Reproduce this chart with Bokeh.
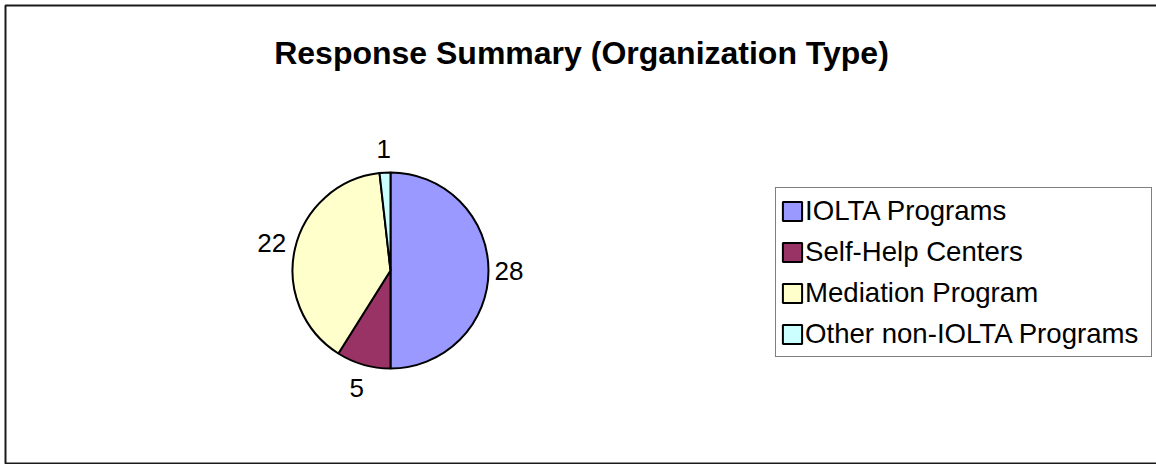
import numpy as np
from bokeh.plotting import figure
from bokeh.models import ColumnDataSource, Range1d, Label, Legend, LegendItem
from bokeh.embed import file_html
from bokeh.resources import INLINE
from bokeh.core.properties import value

# ---- data ----
categories = ["IOLTA Programs", "Self-Help Centers", "Mediation Program", "Other non-IOLTA Programs"]
counts = [28, 5, 22, 1]
colors = ["#9999FF", "#993366", "#FFFFCC", "#CCFFFF"]
title_text = "Response Summary (Organization Type)"

# ---- layout (1 data unit = 1 px, y measured from the top via H - y) ----
W, H = 1156, 464
CX, CY = 390, H - 270
R = 98
FONT = "Liberation Sans"
LAB_FS = 26

total = float(sum(counts))
fracs = np.array(counts) / total
cum = np.concatenate([[0.0], np.cumsum(fracs)[:-1]])
end_a = np.pi / 2 - cum * 2 * np.pi
start_a = end_a - fracs * 2 * np.pi
mid = (start_a + end_a) / 2
label_txt = [str(c) for c in counts]
half_w = np.array([len(t) * 0.556 * LAB_FS / 2 for t in label_txt])
dist = R + 6 + np.abs(np.cos(mid)) * half_w + np.abs(np.sin(mid)) * 17
lx = CX + dist * np.cos(mid)
ly = CY + dist * np.sin(mid)

src = ColumnDataSource(dict(cat=categories, count=counts, color=colors,
                            start=start_a, end=end_a, lx=lx, ly=ly, lab=label_txt))

p = figure(width=W, height=H, output_backend="svg", toolbar_location=None,
           x_range=Range1d(0, W), y_range=Range1d(0, H),
           x_axis_type=None, y_axis_type=None, min_border=0,
           background_fill_color="white", border_fill_color="white")
p.grid.visible = False
p.outline_line_color = None

# chart-area frame (open to the right, as in the reference crop)
p.line(x=[W + 20, 5, 5, W + 20], y=[H - 5, H - 5, H - 463, H - 463],
       line_color="#1a1a1a", line_width=2)

wr = p.wedge(x=CX, y=CY, radius=R, start_angle="start", end_angle="end",
             fill_color="color", line_color="black", line_width=2, source=src)

p.text(x="lx", y="ly", text="lab", source=src, text_align="center", text_baseline="middle",
       text_font=value(FONT), text_font_size=f"{LAB_FS}px", text_color="black")

p.add_layout(Label(x=581, y=H - 52, text=title_text, text_align="center",
                   text_baseline="alphabetic", text_font=FONT, text_font_size="32px",
                   text_font_style="bold", text_color="black"))

items = [LegendItem(label=c, renderers=[wr], index=i) for i, c in enumerate(categories)]
legend = Legend(items=items, location=(775, H - 189 - 168), padding=4, spacing=4,
                label_height=37, glyph_height=24, glyph_width=24, label_standoff=1,
                label_width=342, label_text_font=FONT, label_text_font_size="27.6px",
                label_text_color="black", border_line_color="black", border_line_width=1,
                background_fill_color="white", background_fill_alpha=1.0, margin=0)
p.add_layout(legend)

open("out.html", "w").write(file_html(p, INLINE))
